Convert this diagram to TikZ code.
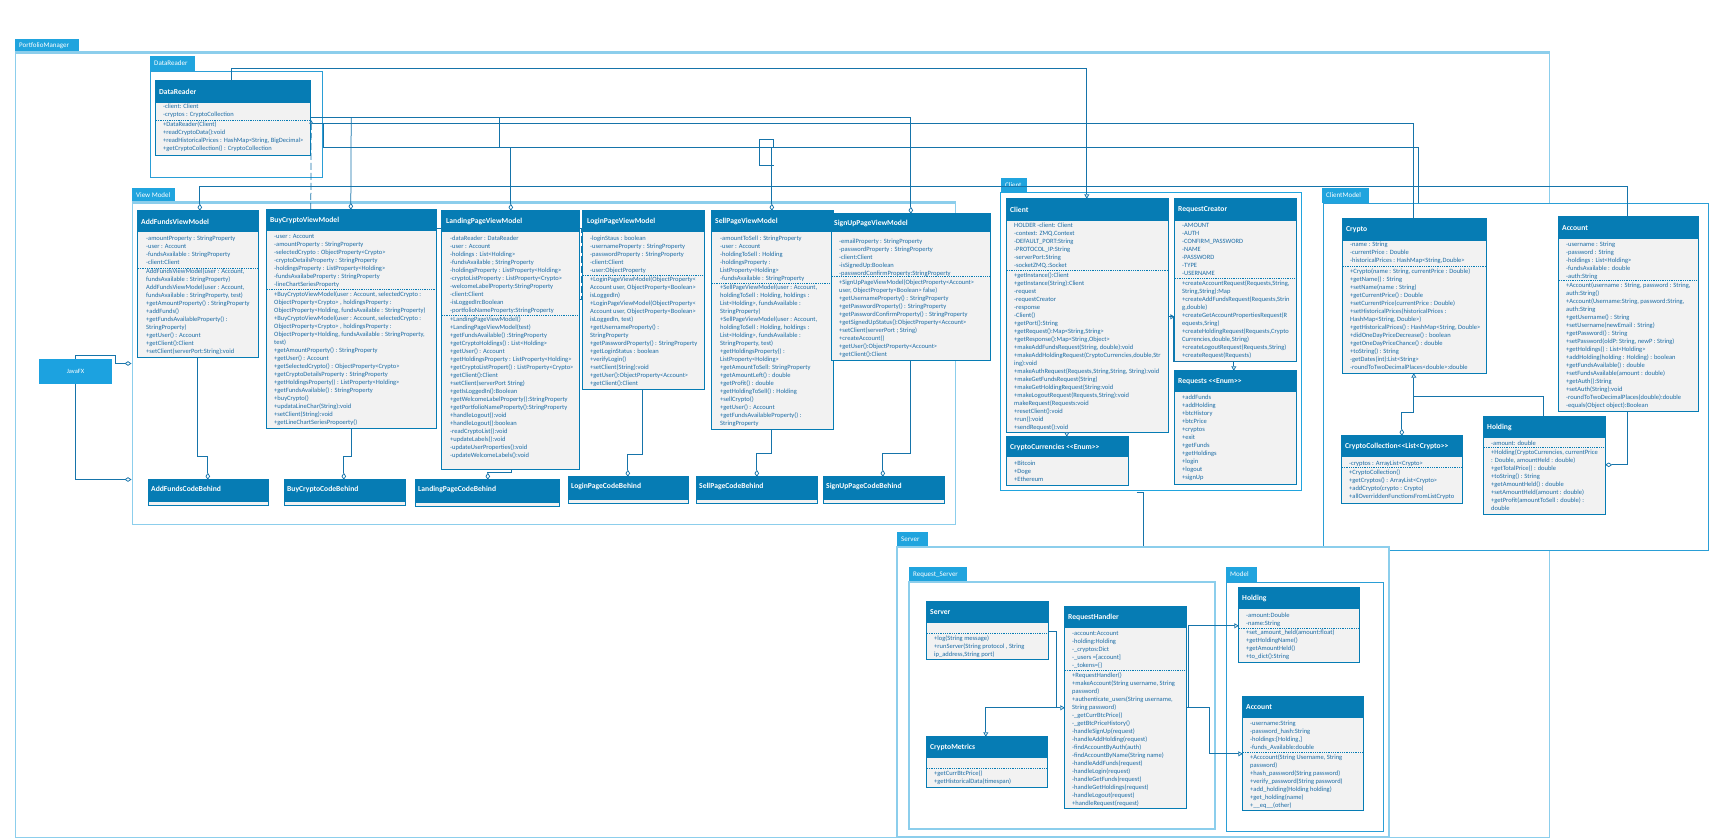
\documentclass[tikz,border=0pt]{standalone}
\usepackage{fontspec}
\setmainfont{Carlito}
\usetikzlibrary{arrows.meta,calc,fit}

\definecolor{hdrblue}{RGB}{6,124,180}
\definecolor{bodygray}{RGB}{242,242,242}
\definecolor{txtblue}{RGB}{28,108,165}
\definecolor{tabblue}{RGB}{32,164,222}
\definecolor{framelight}{RGB}{140,206,236}
\definecolor{framemid}{RGB}{42,158,214}
\definecolor{connblue}{RGB}{22,116,170}
\definecolor{fxblue}{RGB}{28,162,224}

% guillemet-free double angle brackets
\newcommand\LL{<\kern0pt<}
\newcommand\GG{>\kern0pt>}

% class box: name, x1, y1, x2, y2, bottom of header
\newcommand\umlclass[6]{%
  \node[fit={(#2,#3) (#4,#5)}, inner sep=0pt, fill=bodygray] (#1) {};
  \fill[hdrblue] (#1.north west) rectangle (#4,#6);
  \draw[hdrblue, line width=0.8pt] (#1.north west) rectangle (#1.south east);}
% dashed compartment separator: x1, x2, y
\newcommand\umlsep[3]{\draw[sepline] (#1,#3) -- (#2,#3);}
% title: name, x, y, text
\newcommand\umltitle[4]{\node[ttl] (#1) at (#2,#3) {#4};}
% compartment text: name, x, centre of first line, lines
\newcommand\umltext[4]{\node[body] (#1) at (#2,#3-3) {\rule{0pt}{5.2pt}#4};}
% package tab: name, x1, y1, x2, y2, label
\newcommand\pkgtab[6]{%
  \node[fit={(#2,#3) (#4,#5)}, inner sep=0pt, fill=tabblue] (#1) {};
  \node[tabtxt] (#1-l) at (#2+4,{(#3+#5)/2}) {#6};}
% code-behind box: name, x1, y1, x2, y2, label
\newcommand\codebox[6]{%
  \node[fit={(#2,#3) (#4,#5)}, inner sep=0pt, fill=bodygray] (#1) {};
  \fill[hdrblue] (#1.north west) rectangle (#4,#5-3);
  \draw[hdrblue, line width=0.8pt] (#1.north west) rectangle (#1.south east);
  \node[ttl] (#1-t) at (#2+2,#3+9) {#6};}

\begin{document}
\begin{tikzpicture}[x=1pt,y=-1pt,
  ttl/.style={anchor=west, inner sep=0pt, text=white, font=\bfseries\fontsize{7.6}{9}\selectfont},
  body/.style={anchor=north west, inner sep=0pt, align=left, text=txtblue, font=\fontsize{6.5}{8}\selectfont},
  sepline/.style={draw=hdrblue, line width=0.6pt, dash pattern=on 1pt off 0.8pt},
  tabtxt/.style={anchor=west, inner sep=0pt, text=white, font=\fontsize{7}{8}\selectfont},
  conn/.style={draw=connblue, line width=0.75pt},
  dia/.style={-{Diamond[open,fill=white,length=7pt,width=4.6pt]}},
  tri/.style={-{Triangle[open,fill=white,length=4.5pt,width=5pt]}},
  dashedconn/.style={dash pattern=on 7pt off 3pt}]

\useasboundingbox (0,0) rectangle (1714,838);
\fill[white] (0,0) rectangle (1714,838);

% ---------- packages ----------
\pkgtab{pmtab}{15}{39}{79}{53}{PortfolioManager}
\node[fit={(15,53) (1549,837)}, inner sep=0pt, draw=framelight, line width=1pt] (pmpkg) {};
\draw[framelight, line width=2.2pt] (pmpkg.north west) -- (pmpkg.north east);

\pkgtab{drtab}{150}{56}{195}{71}{DataReader}
\node[fit={(150,71) (322,177)}, inner sep=0pt, draw=framemid, fill=white, line width=0.9pt] (drpkg) {};

\pkgtab{vmtab}{132}{188}{175}{203}{View Model}
\node[fit={(132,203) (955,524)}, inner sep=0pt, draw=framelight, fill=white, line width=1pt] (vmpkg) {};
\draw[framelight, line width=2.5pt] (vmpkg.north west) -- (vmpkg.north east);

\pkgtab{cltab}{1001}{178}{1027}{192}{Client}
\node[fit={(1000,192) (1301,490)}, inner sep=0pt, draw=tabblue, fill=white, line width=1pt] (clientpkg) {};

\pkgtab{cmtab}{1322}{188}{1369}{203}{ClientModel}
\node[fit={(1323,203) (1708,550)}, inner sep=0pt, draw=framemid, fill=white, line width=1pt] (cmpkg) {};

\pkgtab{svtab}{897}{532}{928}{547}{Server}
\node[fit={(897,547) (1389,837)}, inner sep=0pt, draw=framelight, fill=white, line width=2pt] (serverpkg) {};

\pkgtab{rstab}{909}{567}{967}{582}{Request\_Server}
\node[fit={(909,582) (1215,829)}, inner sep=0pt, draw=framelight, fill=white, line width=1.4pt] (rspkg) {};

\pkgtab{mdtab}{1226}{567}{1257}{582}{Model}
\node[fit={(1226,582) (1383,831)}, inner sep=0pt, draw=framemid, fill=white, line width=1pt] (modelpkg) {};

% ---------- classes ----------
\umlclass{datareader}{156}{81}{310}{155}{103}
\umltitle{datareader-t}{159}{92}{DataReader}
\umltext{datareader-a}{163}{106.3}{-client: Client\\-cryptos : CryptoCollection}
\umlsep{156}{310}{120}
\umltext{datareader-m}{163}{124}{+DataReader(Client)\\+readCryptoData():void\\+readHistoricalPrices : HashMap<String, BigDecimal>\\+getCryptoCollection() : CryptoCollection}

\umlclass{addfunds}{138}{211}{258}{357}{232}
\umltitle{addfunds-t}{141}{221.5}{AddFundsViewModel}
\umltext{addfunds-a}{146}{237.7}{-amountProperty : StringProperty\\-user : Account\\-fundsAvailable : StringProperty\\-client:Client}
\umlsep{138}{258}{268}
\umltext{addfunds-m}{146}{271}{AddFundsViewModel(user : Account,\\fundsAvailable : StringProperty)\\AddFundsViewModel(user : Account,\\fundsAvailable : StringProperty, test)\\+getAmountProperty() : StringProperty\\+addFunds()\\+getFundsAvailableProperty() :\\StringProperty)\\+getUser() : Account\\+getClient():Client\\+setClient(serverPort:String):void}

\umlclass{buycrypto}{267}{210}{436}{428}{231}
\umltitle{buycrypto-t}{270}{220.5}{BuyCryptoViewModel}
\umltext{buycrypto-a}{274}{235.7}{-user : Account\\-amountProperty : StringProperty\\-selectedCrypto : ObjectProperty<Crypto>\\-cryptoDetailsProperty : StringProperty\\-holdingsProperty : ListProperty<Holding>\\-fundsAvailabeProperty : StringProperty\\-lineChartSeriesProperty}
\umlsep{267}{436}{289}
\umltext{buycrypto-m}{274}{294}{+BuyCryptoViewModel(user : Account, selectedCrypto :\\ObjectProperty<Crypto> , holdingsProperty :\\ObjectProperty<Holding, fundsAvailable : StringProperty)\\+BuyCryptoViewModel(user : Account, selectedCrypto :\\ObjectProperty<Crypto> , holdingsProperty :\\ObjectProperty<Holding, fundsAvailable : StringProperty,\\test)\\+getAmountProperty() : StringProperty\\+getUser() : Account\\+getSelectedCrypto() : ObjectProperty<Crypto>\\+getCryptoDetailsProperty : StringProperty\\+getHoldingsProperty() : ListProperty<Holding>\\+getFundsAvailable() : StringProperty\\+buyCrypto()\\+updataLineChar(String):void\\+setClient(String):void\\+getLineChartSeriesPropoerty()}

\umlclass{landing}{442}{211}{579}{469}{232}
\umltitle{landing-t}{446}{221.5}{LandingPageViewModel}
\umltext{landing-a}{450}{237.7}{-dataReader : DataReader\\-user : Account\\-holdings : List<Holding>\\-fundsAvailable ; StringProperty\\-holdingsProperty : ListProperty<Holding>\\-cryptoListProperty : ListProperty<Crypto>\\-welcomeLabelProperty:StringProperty\\-client:Client\\-isLoggedIn:Boolean\\-portfolioNameProperty:StringProperty}
\umlsep{442}{579}{315}
\umltext{landing-m}{450}{319.3}{+LandingPageViewModel()\\+LandingPageViewModel(test)\\+getFundsAvailable() :StringProperty\\+getCryptoHoldings() : List<Holding>\\+getUser() : Account\\+getHoldingsProperty : ListProperty<Holding>\\+getCryptoListPropert() : ListProperty<Crypto>\\+getClient():Client\\+setClient(serverPort String)\\+getIsLoggedIn():Boolean\\+getWelcomeLabelProperty():StringProperty\\+getPortfolioNameProperty():StringProperty\\+handleLogout():void\\+handleLogout():boolean\\-readCryptoList():void\\+updateLabels():void\\-updateUserProperties():void\\-updateWelcomeLabels():void}

\umlclass{login}{583}{211}{704}{389}{232}
\umltitle{login-t}{587}{221.5}{LoginPageViewModel}
\umltext{login-a}{590}{237.7}{-loginStaus : boolean\\-usernameProperty : StringProperty\\-passwordProperty : StringProperty\\-client:Client\\-user:ObjectProperty}
\umlsep{583}{704}{275}
\umltext{login-m}{590}{279}{+LoginPageViewModel(ObjectProperty<\\Account user, ObjectProperty<Boolean>\\isLoggedIn)\\+LoginPageViewModel(ObjectProperty<\\Account user, ObjectProperty<Boolean>\\isLoggedIn, test)\\+getUsernameProperty() :\\StringProperty\\+getPasswordProperty() : StringProperty\\+getLoginStatus : boolean\\+verifyLogin()\\+setClient(String):void\\+getUser():ObjectProperty<Account>\\+getClient():Client}

\umlclass{sell}{712}{211}{833}{429}{232}
\umltitle{sell-t}{715}{221.5}{SellPageViewModel}
\umltext{sell-a}{720}{237.7}{-amountToSell : StringProperty\\-user : Account\\-holdingToSell : Holding\\-holdingsProperty :\\ListProperty<Holding>\\-fundsAvailable : StringProperty}
\umlsep{712}{833}{283.3}
\umltext{sell-m}{720}{286.7}{+SellPageViewModel(user : Account,\\holdingToSell : Holding, holdings :\\List<Holding>, fundsAvailable :\\StringProperty)\\+SellPageViewModel(user : Account,\\holdingToSell : Holding, holdings :\\List<Holding>, fundsAvailable :\\StringProperty, test)\\+getHoldingsProperty() :\\ListProperty<Holding>\\+getAmountToSell: StringProperty\\+getAmountLeft() : double\\+getProfit() : double\\+getHoldingToSell() : Holding\\+sellCrypto()\\+getUser() : Account\\+getFundsAvailableProperty() :\\StringProperty}

\umlclass{signup}{832}{214}{990}{360}{232}
\umltitle{signup-t}{834}{223}{SignUpPageViewModel}
\umltext{signup-a}{839}{240.7}{-emailProperty : StringProperty\\-passwordProperty : StringProperty\\-client:Client\\-isSignedUp:Boolean\\-passwordConfirmProperty:StringProperty}
\umlsep{832}{990}{276.7}
\umltext{signup-m}{839}{281.7}{+SignUpPageViewModel(ObjectProperty<Account>\\user, ObjectProperty<Boolean> false)\\+getUsernameProperty() : StringProperty\\+getPasswordProperty() : StringProperty\\+getPasswordConfirmProperty() : StringProperty\\+getSignedUpStatus():ObjectProperty<Account>\\+setClient(serverPort ; String)\\+createAccount()\\+getUser():ObjectProperty<Account>\\+getClient():Client}

\umlclass{client}{1007}{199}{1168}{432}{221}
\umltitle{client-t}{1010}{210}{Client}
\umltext{client-a}{1014}{224.7}{HOLDER -client: Client\\-context: ZMQ.Context\\-DEFAULT\_PORT:String\\-PROTOCOL\_IP:String\\-serverPort:String\\-socketZMQ.:Socket}
\umlsep{1007}{1168}{270.3}
\umltext{client-m}{1014}{274.7}{+getInstance():Client\\+getInstance(String):Client\\-request\\-requestCreator\\-response\\-Client()\\+getPort():String\\+getRequest():Map<String,String>\\+getResponse():Map<String,Object>\\+makeAddFundsRequest(String, double):void\\+makeAddHoldingRequest(CryptoCurrencies,double,Str\\ing):void\\+makeAuthRequest(Requests,String,String, String):void\\+makeGetFundsRequest(String)\\+makeGetHoldingRequest(String:void\\+makeLogoutRequest(Requests,String):void\\makeRequest(Requests:void\\+resetClient():void\\+run():void\\+sendRequest():void}

\umlclass{reqcreator}{1175}{199}{1296}{361}{221}
\umltitle{reqcreator-t}{1178}{210}{RequestCreator}
\umltext{reqcreator-a}{1182}{224.7}{-AMOUNT\\-AUTH\\-CONFIRM\_PASSWORD\\-NAME\\-PASSWORD\\-TYPE\\-USERNAME}
\umlsep{1175}{1296}{278.7}
\umltext{reqcreator-m}{1182}{283.3}{+createAccountRequest(Requests,String,\\String,String):Map\\+createAddFundsRequest(Requests,Strin\\g,double)\\+createGetAccountPropertiesRequest(R\\equests,Sring)\\+createHoldingRequest(Requests,Crypto\\Currencies,double,String)\\+createLogoutRequest(Requests,String)\\+createRequest(Requests)}

\umlclass{requests}{1175}{371}{1296}{484}{392}
\umltitle{requests-t}{1178}{381.5}{Requests \LL Enum\GG}
\umltext{requests-i}{1182}{397.3}{+addFunds\\+addHolding\\+btcHistory\\+btcPrice\\+cryptos\\+exit\\+getFunds\\+getHoldings\\+login\\+logout\\+signUp}

\umlclass{cryptocur}{1007}{437}{1128}{485}{457}
\umltitle{cryptocur-t}{1010}{447}{CryptoCurrencies \LL Enum\GG}
\umltext{cryptocur-i}{1014}{462.7}{+Bitcoin\\+Doge\\+Ethereum}

\umlclass{crypto}{1343}{219}{1486}{373}{241}
\umltitle{crypto-t}{1346}{230}{Crypto}
\umltext{crypto-a}{1350}{244.3}{-name : String\\-currentPrice : Double\\-historicalPrices : HashMap<String,Double>}
\umlsep{1343}{1486}{266.3}
\umltext{crypto-m}{1350}{270.7}{+Crypto(name : String, currentPrice : Double)\\+getName() : String\\+setName(name : String)\\+getCurrentPrice() : Double\\+setCurrentPrice(currentPrice : Double)\\+setHistoricalPrices(historicalPrices :\\HashMap<String, Double>)\\+getHistoricalPrices() : HashMap<String, Double>\\+didOneDayPriceDecrease() : boolean\\+getOneDayPriceChance() : double\\+toString() : String\\-getDates(int):List<String>\\-roundToTwoDecimalPlaces<double>:double}

\umlclass{cmaccount}{1559}{217}{1698}{411}{239}
\umltitle{cmaccount-t}{1562}{228}{Account}
\umltext{cmaccount-a}{1566}{243.7}{-username : String\\-password : String\\-holdings : List<Holding>\\-fundsAvailable : double\\-auth:String}
\umlsep{1559}{1698}{280}
\umltext{cmaccount-m}{1566}{285}{+Account(username : String, password : String,\\auth:String()\\+Account(Username:String, password:String,\\auth:String\\+getUsername() : String\\+setUsername(newEmail : String)\\+getPassword() : String\\+setPassword(oldP: String, newP : String)\\+getHoldings() : List<Holding>\\+addHolding(holding : Holding) : boolean\\+getFundsAvailable() : double\\+setFundsAvailable(amount : double)\\+getAuth():String\\+setAuth(String):void\\-roundToTwoDecimalPlaces(double):double\\-equals(Object object):Boolean}

\umlclass{cryptocoll}{1342}{436}{1462}{503}{457}
\umltitle{cryptocoll-t}{1345}{446.5}{CryptoCollection\LL List<Crypto\GG}
\umltext{cryptocoll-a}{1349}{462.7}{-cryptos : ArrayList<Crypto>}
\umlsep{1342}{1462}{467.7}
\umltext{cryptocoll-m}{1349}{471.7}{+CryptoCollection()\\+getCryptos() : ArrayList<Crypto>\\+addCrypto(crypto : Crypto)\\+allOverriddenFunctionsFromListCrypto}

\umlclass{cmholding}{1484}{417}{1605}{514}{438}
\umltitle{cmholding-t}{1487}{427.5}{Holding}
\umltext{cmholding-a}{1491}{442.7}{-amount: double}
\umlsep{1484}{1605}{447.7}
\umltext{cmholding-m}{1491}{452.3}{+Holding(CryptoCurrencies, currentPrice\\: Double, amountHeld : double)\\+getTotalPrice() : double\\+toString() : String\\+getAmountHeld() : double\\+setAmountHeld(amount : double)\\+getProfit(amountToSell : double) :\\double}

\umlclass{server}{927}{602}{1048}{659}{623}
\umltitle{server-t}{930}{612.5}{Server}
\umlsep{927}{1048}{633.7}
\umltext{server-m}{934}{637.7}{+log(String message)\\+runServer(String protocol , String\\ip\_address,String port)}

\umlclass{reqhandler}{1065}{607}{1186}{808}{628}
\umltitle{reqhandler-t}{1068}{617.5}{RequestHandler}
\umltext{reqhandler-a}{1072}{632.7}{-account:Account\\-holding:Holding\\-\_cryptos:Dict\\-\_users =[account]\\-\_tokens=\{\}}
\umlsep{1065}{1186}{670.3}
\umltext{reqhandler-m}{1072}{675}{+RequestHandler()\\+makeAccount(String username, String\\password)\\+authenticate\_users(String username,\\String password)\\-\_getCurrBtcPrice()\\-\_getBtcPriceHistory()\\-handleSignUp(request)\\-handleAddHolding(request)\\-findAccountByAuth(auth)\\-findAccountByName(String name)\\-handleAddFunds(request)\\-handleLogin(request)\\-handleGetFunds(request)\\-handleGetHoldings(request)\\-handleLogout(request)\\+handleRequest(request)}

\umlclass{cmetrics}{927}{737}{1047}{787}{758}
\umltitle{cmetrics-t}{930}{747.5}{CryptoMetrics}
\umlsep{927}{1047}{768}
\umltext{cmetrics-m}{934}{772.7}{+getCurrBtcPrice()\\+getHistoricalData(timespan)}

\umlclass{mholding}{1239}{588}{1359}{662}{609}
\umltitle{mholding-t}{1242}{598.5}{Holding}
\umltext{mholding-a}{1246}{614.7}{-amount:Double\\-name:String}
\umlsep{1239}{1359}{628.3}
\umltext{mholding-m}{1246}{632.3}{+set\_amount\_held(amount:float)\\+getHoldingName()\\+getAmountHeld()\\+to\_dict():String}

\umlclass{maccount}{1243}{697}{1363}{810}{718}
\umltitle{maccount-t}{1246}{707.5}{Account}
\umltext{maccount-a}{1250}{723.3}{-username:String\\-password\_hash:String\\-holdings:[Holding,]\\-funds\_Available:double}
\umlsep{1243}{1363}{752.3}
\umltext{maccount-m}{1250}{756.7}{+Acccount(String Username, String\\password)\\+hash\_password(String password)\\+verify\_password(String password)\\+add\_holding(Holding holding)\\+get\_holding(name)\\+\_\_eq\_\_(other)}

% ---------- code-behind boxes and JavaFX ----------
\codebox{addfundscb}{149}{480}{268}{505}{AddFundsCodeBehind}
\codebox{buycryptocb}{285}{480}{405}{505}{BuyCryptoCodeBehind}
\codebox{landingcb}{416}{480}{559}{506}{LandingPageCodeBehind}
\codebox{logincb}{569}{477}{688}{503}{LoginPageCodeBehind}
\codebox{sellcb}{697}{477}{817}{503}{SellPageCodeBehind}
\codebox{signupcb}{824}{477}{944}{503}{SignUpPageCodeBehind}

\node[fit={(39,359) (112,384)}, inner sep=0pt, fill=fxblue] (javafx) {};
\node[inner sep=0pt, text=white, font=\fontsize{6.5}{8}\selectfont] (javafx-l) at (javafx.center) {JavaFX};

% ---------- connectors ----------
% DataReader -> Client
\draw[conn,tri] ($(datareader.north west)+(76,0)$) -- ++(0,-12) -| ($(client.north west)+(80,0)$);
% DataReader bus to the view models
\draw[conn,dia] ($(datareader.north east)+(0,37)$) -| ($(signup.north west)+(79,0)$);
\draw[conn,dia] ($(datareader.north east)+(41,37)$) -- ($(buycrypto.north west)+(84,0)$);
\draw[conn,dia] ($(datareader.north east)+(189,37)$) -- ++(0,30) -| ($(landing.north west)+(69,0)$);
% DataReader -> Crypto
\draw[conn] ($(datareader.north east)+(0,43)$) -| ($(crypto.north west)+(71,0)$);
% DataReader -> ClientModel, with SellPageViewModel branch
\draw[conn] ($(datareader.north east)+(0,43)$) -- ++(13,0) |- ($(cmpkg.north west)+(96,-55)$) -- ($(cmpkg.north west)+(96,0)$);
\draw[conn,dia] ($(sell.north west)+(60,-63)$) -- ($(sell.north west)+(60,0)$);
\draw[conn] ($(sell.north west)+(62,-63)$) -- ++(0,-8) -- ++(-14,0) -- ++(0,26) -- ++(14,0);
% Account -> AddFundsViewModel
\draw[conn,dia] ($(cmaccount.north west)+(69,0)$) |- ($(addfunds.north west)+(62,-24)$) -- ($(addfunds.north west)+(62,0)$);
% BuyCryptoViewModel ..> DataReader
\draw[conn,dashedconn,-{Triangle[open,fill=white,length=3.5pt,width=4pt]}] ($(buycrypto.north west)+(44,0)$) -- ($(datareader.south east)+(1,-35)$);
% BuyCrypto -- Landing, Landing .. Login
\draw[conn] ($(buycrypto.north east)+(0,19)$) -- ($(landing.north west)+(0,18)$);
\draw[conn,dashedconn] ($(landing.north east)+(0,18)$) -- ++(2.5,0) -- ++(0,71) -- ++(-2.5,0);
% JavaFX -> View Model
\draw[conn,dia] (javafx.north) -- ++(0,-3) -- ++(39.5,0) |- ($(vmpkg.north west)+(0,161)$);
\draw[conn,dia] (javafx.south) |- ($(vmpkg.north west)+(0,277)$);
% view models -> code-behind
\draw[conn,dia] ($(addfunds.south west)+(60,0)$) -- ++(0,99) -| ($(addfundscb.north west)+(59,0)$);
\draw[conn,dia] ($(buycrypto.south west)+(85,0)$) -- ++(0,28) -| ($(buycryptocb.north west)+(59,0)$);
\draw[conn,dia] ($(landing.south west)+(70,0)$) -- ++(0,3) -| ($(landingcb.north west)+(72,0)$);
\draw[conn,dia] ($(login.south west)+(60,0)$) -- ++(0,65) -| ($(logincb.north west)+(59,0)$);
\draw[conn,dia] ($(sell.south west)+(60,0)$) -- ++(0,24) -| ($(sellcb.north west)+(60,0)$);
\draw[conn,dia] ($(signup.south west)+(79,0)$) -- ++(0,93) -| ($(signupcb.north west)+(59,0)$);
% inside Client
\draw[conn,tri] ($(client.south west)+(60,0)$) -- ($(cryptocur.north west)+(60,0)$);
\draw[conn,tri] ($(client.north east)+(0,118)$) -- ($(reqcreator.north west)+(0,118)$);
\draw[conn,tri] ($(client.north east)+(0,118)$) -- ++(5,0) |- ($(requests.north west)+(59,-9)$) -- ($(requests.north west)+(59,0)$);
% Client -> Server
\draw[conn] ($(clientpkg.south west)+(137,1.5)$) -| ($(serverpkg.north west)+(247,0)$);
% inside ClientModel
\draw[conn,tri] ($(cmholding.north west)+(60,0)$) |- ($(crypto.south west)+(71,23)$) -- ($(crypto.south west)+(71,0)$);
\draw[conn,dia] ($(crypto.south west)+(71,23)$) -- ++(0,16) -| ($(cryptocoll.north west)+(60,0)$);
\draw[conn,dia] ($(cmaccount.south west)+(69,0)$) |- ($(cmholding.north east)+(0,48)$);
% inside Server
\draw[conn,tri] ($(server.north east)+(0,30)$) -- ++(8,0) |- ($(reqhandler.north west)+(0,101)$);
\draw[conn,tri] ($(reqhandler.north west)+(-9,101)$) -| ($(cmetrics.north west)+(59,0)$);
\draw[conn,tri] ($(reqhandler.north east)+(0,101)$) -- ++(2,0) |- ($(mholding.north west)+(0,38)$);
\draw[conn,tri] ($(reqhandler.north east)+(0,101)$) -- ++(23,0) |- ($(maccount.north west)+(0,57)$);

\end{tikzpicture}
\end{document}
